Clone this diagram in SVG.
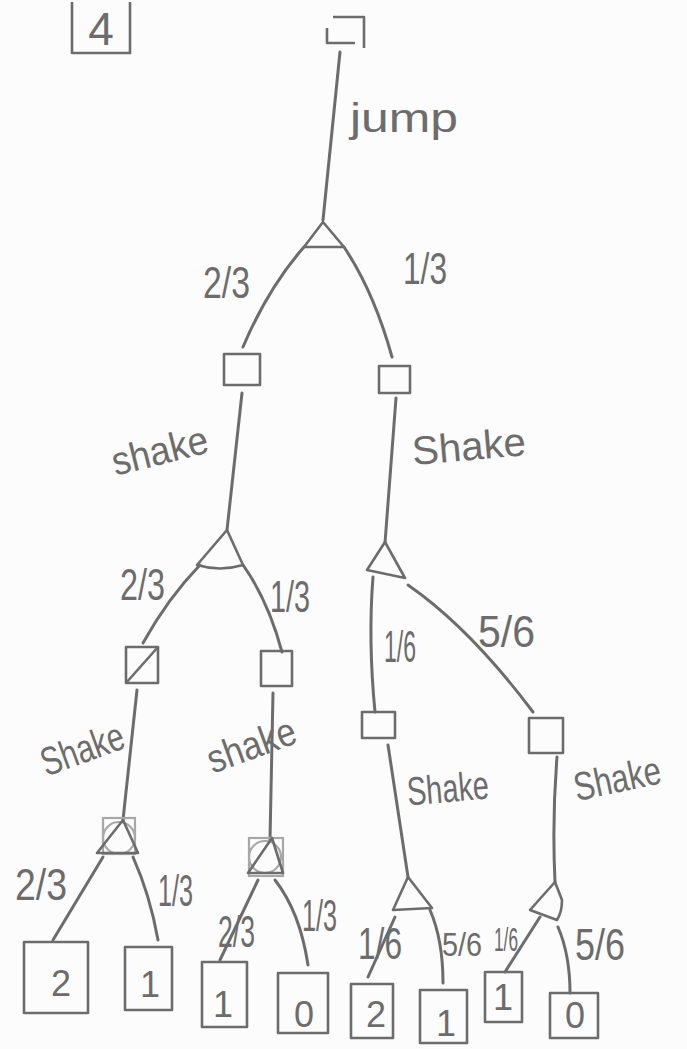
<svg xmlns="http://www.w3.org/2000/svg" width="687" height="1049" viewBox="0 0 687 1049">
  <style>
    .ln { fill: none; stroke: #6c6c6c; stroke-width: 3; stroke-linecap: round; stroke-linejoin: round; }
    .nd { fill: none; stroke: #6c6c6c; stroke-width: 2.6; stroke-linejoin: round; }
    .faint { fill: none; stroke: #a8a8a8; stroke-width: 2.2; }
    .t { fill: #6c6c6c; font-family: "Liberation Sans", Arial, sans-serif; }
    .fr { font-size: 44px; }
    .frs { font-size: 34px; }
    .act { font-size: 40px; }
    .leaf { font-size: 36px; text-anchor: middle; }
  </style>
  <rect x="0" y="0" width="687" height="1049" fill="#fcfcfc"/>

  <!-- problem number -->
  <g id="problem-number">
    <path class="nd" d="M72,2 V53 H131 M130,2 V54"/>
    <text class="t" x="101" y="45" font-size="46" text-anchor="middle">4</text>
  </g>

  <!-- connectors -->
  <g id="connectors">
    <path class="ln" d="M340,52 L323,220"/>
    <path class="ln" d="M304,247 Q268,288 243,347"/>
    <path class="ln" d="M344,247 Q374,292 392,357"/>
    <path class="ln" d="M242,393 L227,530"/>
    <path class="ln" d="M396,398 L385,543"/>
    <path class="ln" d="M200,565 Q168,598 143,643"/>
    <path class="ln" d="M243,565 Q268,600 282,652"/>
    <path class="ln" d="M373,577 Q368,640 375,712"/>
    <path class="ln" d="M408,585 Q470,628 533,712"/>
    <path class="ln" d="M137,690 L123,820"/>
    <path class="ln" d="M273,693 L270,840"/>
    <path class="ln" d="M388,745 L408,877"/>
    <path class="ln" d="M557,757 Q552,820 555,882"/>
    <path class="ln" d="M103,857 L53,940"/>
    <path class="ln" d="M133,857 Q150,895 158,940"/>
    <path class="ln" d="M258,880 L220,960"/>
    <path class="ln" d="M275,880 Q300,912 308,965"/>
    <path class="ln" d="M395,917 L368,977"/>
    <path class="ln" d="M430,910 Q443,940 443,983"/>
    <path class="ln" d="M540,917 L505,972"/>
    <path class="ln" d="M558,927 Q570,955 570,993"/>
  </g>

  <!-- action labels -->
  <g id="action-labels">
    <text class="t act" x="350" y="132" textLength="108" lengthAdjust="spacingAndGlyphs">jump</text>
    <text class="t act" transform="translate(163,464) rotate(-14)" x="-49" y="0" textLength="98" lengthAdjust="spacingAndGlyphs">shake</text>
    <text class="t act" transform="translate(470,460) rotate(-5)" x="-57" y="0" textLength="114" lengthAdjust="spacingAndGlyphs">Shake</text>
    <text class="t act" transform="translate(87,762) rotate(-20)" x="-43" y="0" textLength="86" lengthAdjust="spacingAndGlyphs">Shake</text>
    <text class="t act" transform="translate(256,758) rotate(-20)" x="-46" y="0" textLength="92" lengthAdjust="spacingAndGlyphs">shake</text>
    <text class="t act" transform="translate(449,802) rotate(-5)" x="-41" y="0" textLength="82" lengthAdjust="spacingAndGlyphs">Shake</text>
    <text class="t act" font-size="34" transform="translate(620,792) rotate(-12)" x="-44" y="0" textLength="88" lengthAdjust="spacingAndGlyphs">Shake</text>
  </g>

  <!-- probability labels -->
  <g id="probabilities">
    <text class="t fr" x="203" y="298" textLength="47" lengthAdjust="spacingAndGlyphs">2/3</text>
    <text class="t fr" x="403" y="284" textLength="44" lengthAdjust="spacingAndGlyphs">1/3</text>
    <text class="t fr" x="120" y="600" textLength="45" lengthAdjust="spacingAndGlyphs">2/3</text>
    <text class="t fr" x="270" y="612" textLength="40" lengthAdjust="spacingAndGlyphs">1/3</text>
    <text class="t fr" x="384" y="662" textLength="32" lengthAdjust="spacingAndGlyphs">1/6</text>
    <text class="t fr" x="478" y="647" textLength="57" lengthAdjust="spacingAndGlyphs">5/6</text>
    <text class="t fr" x="15" y="900" textLength="52" lengthAdjust="spacingAndGlyphs">2/3</text>
    <text class="t fr" x="158" y="906" textLength="35" lengthAdjust="spacingAndGlyphs">1/3</text>
    <text class="t fr" x="218" y="947" textLength="37" lengthAdjust="spacingAndGlyphs">2/3</text>
    <text class="t fr" x="302" y="931" textLength="35" lengthAdjust="spacingAndGlyphs">1/3</text>
    <text class="t fr" x="358" y="959" textLength="44" lengthAdjust="spacingAndGlyphs">1/6</text>
    <text class="t frs" x="442" y="956" textLength="40" lengthAdjust="spacingAndGlyphs">5/6</text>
    <text class="t frs" x="494" y="951" textLength="24" lengthAdjust="spacingAndGlyphs">1/6</text>
    <text class="t fr" x="575" y="960" textLength="50" lengthAdjust="spacingAndGlyphs">5/6</text>
  </g>

  <!-- decision nodes -->
  <g id="decision-root"><path class="nd" d="M333,17 H364 V48 M327,28 V43 H355"/></g>
  <g id="decision-left"><rect class="nd" x="224" y="354" width="36" height="31"/></g>
  <g id="decision-right"><rect class="nd" x="379" y="366" width="31" height="27"/></g>
  <g id="decision-left-left"><rect class="nd" x="126" y="647" width="32" height="36"/><path class="nd" d="M126,683 L158,647"/></g>
  <g id="decision-left-right"><rect class="nd" x="261" y="651" width="31" height="35"/></g>
  <g id="decision-right-left"><rect class="nd" x="362" y="712" width="33" height="26"/></g>
  <g id="decision-right-right"><rect class="nd" x="529" y="718" width="34" height="35"/></g>

  <!-- chance nodes -->
  <g id="chance-top"><path class="nd" d="M323,222 L304,247 H344 Z"/></g>
  <g id="chance-left"><path class="nd" d="M227,530 L197,565 Q220,572 243,565 Z"/></g>
  <g id="chance-right"><path class="nd" d="M385,542 L367,570 L405,578 Z"/></g>
  <g id="chance-ll">
    <rect class="faint" x="103" y="818" width="32" height="36"/>
    <circle class="faint" cx="119" cy="838" r="16"/>
    <path class="nd" d="M123,820 L97,853 H138 Z"/>
  </g>
  <g id="chance-lr">
    <rect class="faint" x="249" y="838" width="34" height="38"/>
    <circle class="faint" cx="265" cy="857" r="16"/>
    <path class="nd" d="M272,838 L248,873 H283 Z"/>
  </g>
  <g id="chance-rl"><path class="nd" d="M408,877 L393,910 L432,908 Z"/></g>
  <g id="chance-rr"><path class="nd" d="M555,882 L562,900 Q562,912 557,920 L530,910 Z"/></g>

  <!-- leaves -->
  <g id="leaf-1"><rect class="nd" x="24" y="942" width="64" height="71"/><text class="t leaf" x="61" y="996">2</text></g>
  <g id="leaf-2"><rect class="nd" x="125" y="947" width="47" height="63"/><text class="t leaf" x="150" y="997">1</text></g>
  <g id="leaf-3"><rect class="nd" x="202" y="962" width="45" height="65"/><text class="t leaf" x="223" y="1017" font-size="44">1</text></g>
  <g id="leaf-4"><rect class="nd" x="278" y="973" width="50" height="60"/><text class="t leaf" x="304" y="1027">0</text></g>
  <g id="leaf-5"><rect class="nd" x="351" y="984" width="42" height="54"/><text class="t leaf" x="376" y="1027" font-size="30">2</text></g>
  <g id="leaf-6"><rect class="nd" x="420" y="990" width="47" height="53"/><text class="t leaf" x="446" y="1036" font-size="38">1</text></g>
  <g id="leaf-7"><rect class="nd" x="485" y="972" width="37" height="50"/><text class="t leaf" x="503" y="1010" font-size="30">1</text></g>
  <g id="leaf-8"><rect class="nd" x="550" y="993" width="48" height="45"/><text class="t leaf" x="575" y="1028" font-size="28">0</text></g>
</svg>
